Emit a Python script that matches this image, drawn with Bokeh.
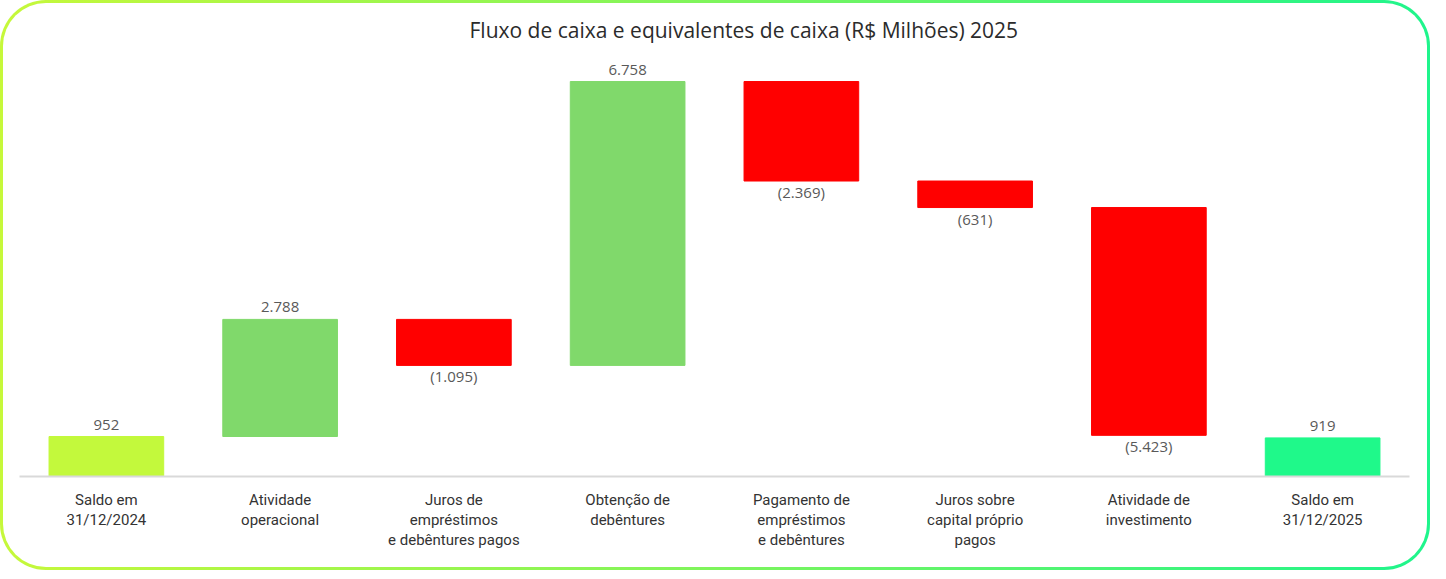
from bokeh.plotting import figure
from bokeh.models import ColumnDataSource, FactorRange, Range1d, Title
from bokeh.embed import file_html
from bokeh.resources import INLINE

categories = [
    "Saldo em\n31/12/2024",
    "Atividade\noperacional",
    "Juros de\nempréstimos\ne debêntures pagos",
    "Obtenção de\ndebêntures",
    "Pagamento de\nempréstimos\ne debêntures",
    "Juros sobre\ncapital próprio\npagos",
    "Atividade de\ninvestimento",
    "Saldo em\n31/12/2025",
]
values = [952, 2788, -1095, 6758, -2369, -631, -5423, 919]
kinds = ["start", "delta", "delta", "delta", "delta", "delta", "delta", "end"]

colors_map = {"start": "#C3F93C", "end": "#1FF98A", "pos": "#80D96B", "neg": "#FF0000"}

def fmt(v):
    s = f"{abs(v):,}".replace(",", ".")
    return f"({s})" if v < 0 else s

bottoms, tops, cols, labels, label_y = [], [], [], [], []
running = 0
for v, k in zip(values, kinds):
    if k == "start":
        b, t = 0, v
        running = v
        c = colors_map["start"]
    elif k == "end":
        b, t = 0, v
        c = colors_map["end"]
    else:
        b = running
        running += v
        t = running
        c = colors_map["pos"] if v >= 0 else colors_map["neg"]
    lo, hi = min(b, t), max(b, t)
    bottoms.append(lo)
    tops.append(hi)
    cols.append(c)
    labels.append(fmt(v))
    label_y.append(hi if v >= 0 else lo)

src = ColumnDataSource(dict(x=categories, bottom=bottoms, top=tops, color=cols))
pos_src = ColumnDataSource(dict(
    x=[c for c, v in zip(categories, values) if v >= 0],
    y=[y for y, v in zip(label_y, values) if v >= 0],
    t=[l for l, v in zip(labels, values) if v >= 0],
))
neg_src = ColumnDataSource(dict(
    x=[c for c, v in zip(categories, values) if v < 0],
    y=[y for y, v in zip(label_y, values) if v < 0],
    t=[l for l, v in zip(labels, values) if v < 0],
))

p = figure(
    x_range=FactorRange(*categories, range_padding=0),
    y_range=Range1d(0, 10070),
    width=1430, height=570,
    output_backend="svg", toolbar_location=None,
    min_border_left=16, min_border_right=24, min_border_top=50, min_border_bottom=97,
    outline_line_color=None,
    background_fill_alpha=0, border_fill_alpha=0,
)
p.styles = {
    "border": "3px solid transparent",
    "border-radius": "46px",
    "box-sizing": "border-box",
    "background": "linear-gradient(#ffffff, #ffffff) padding-box, linear-gradient(90deg, #C6F83A, #7EF55C 50%, #1EF58C) border-box",
}

t = Title(text="Fluxo de caixa e equivalentes de caixa (R$ Milhões) 2025",
          align="left", text_font="Open Sans", text_font_size="21px",
          text_font_style="normal", text_color="#2B2B2B", offset=450, standoff=19)
p.add_layout(t, "above")

p.vbar(x="x", bottom="bottom", top="top", width=0.66, color="color", source=src)

p.text(x="x", y="y", text="t", source=pos_src, text_align="center", text_baseline="bottom",
       y_offset=-7, text_font_size="15px", text_color="#595959", text_font={"value": "Open Sans"})
p.text(x="x", y="y", text="t", source=neg_src, text_align="center", text_baseline="top",
       y_offset=1, text_font_size="15px", text_color="#595959", text_font={"value": "Open Sans"})

p.yaxis.visible = False
p.xgrid.visible = False
p.ygrid.visible = False
ax = p.xaxis[0]
ax.axis_line_color = "#D9D9D9"
ax.axis_line_width = 2
ax.major_tick_line_color = None
ax.minor_tick_line_color = None
ax.major_label_text_font = "Roboto"
ax.major_label_text_font_size = "15px"
ax.major_label_text_color = "#333333"
ax.major_label_text_line_height = 1.12
ax.major_label_standoff = 8

open("out.html", "w").write(file_html(p, INLINE))
